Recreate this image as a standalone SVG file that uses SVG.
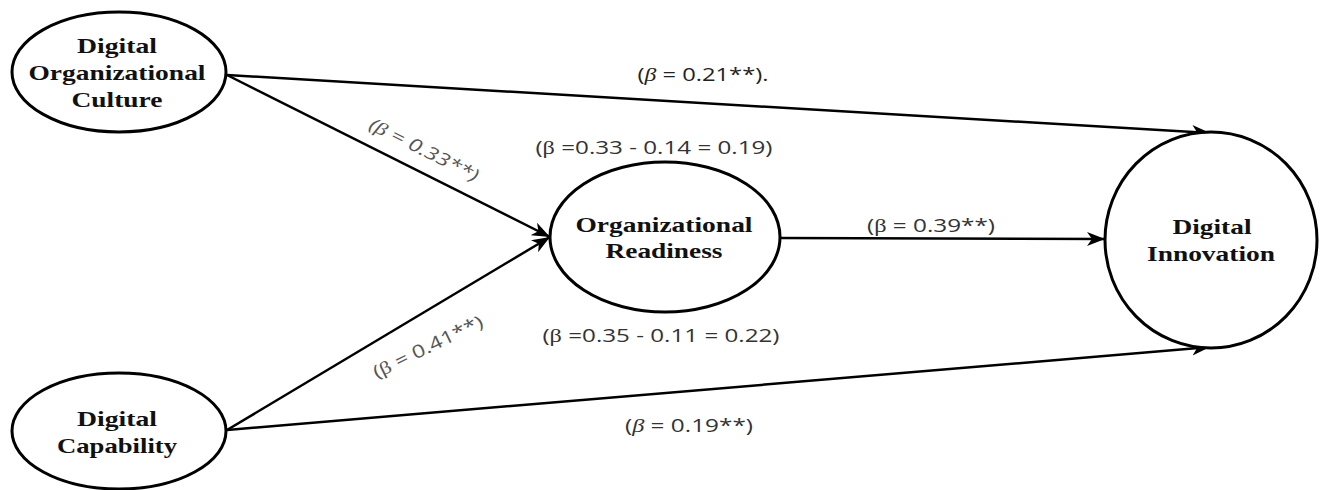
<svg xmlns="http://www.w3.org/2000/svg" width="1320" height="490" viewBox="0 0 1320 490">
<style>
.node ellipse{fill:#fff;stroke:#000;stroke-width:3}
.nt{font-family:"Liberation Serif","Times New Roman",serif;font-weight:bold;font-size:22px;fill:#111;text-anchor:middle}
.lbl{font-family:"Open Sans","Liberation Sans",sans-serif;font-size:18px;fill:#333;text-anchor:middle}
.gray{fill:#555}
.b{font-family:"Liberation Serif","Times New Roman",serif}
.bi{font-family:"Liberation Serif","Times New Roman",serif;font-style:italic}
.conn line{stroke:#000;stroke-width:2.5;marker-end:url(#arr)}
</style>
<defs>
<marker id="arr" markerUnits="userSpaceOnUse" markerWidth="20" markerHeight="16" refX="18" refY="7" orient="auto" viewBox="0 0 20 14">
<path d="M0,0 L18,7 L0,14 L5,7 z" fill="#000"/>
</marker>
</defs>
<rect width="1320" height="490" fill="#fff"/>
<g class="conn" id="connectors">
<line x1="227" y1="75" x2="1210" y2="133"/>
<line x1="227" y1="75" x2="550" y2="237"/>
<line x1="227" y1="430" x2="550" y2="237"/>
<line x1="227" y1="430" x2="1210" y2="347"/>
<line x1="780" y1="238" x2="1105" y2="239"/>
</g>
<g class="node" id="doc">
<ellipse cx="119" cy="72" rx="107" ry="60"/>
<text class="nt" x="117" y="53" textLength="80" lengthAdjust="spacingAndGlyphs">Digital</text>
<text class="nt" x="117" y="80" textLength="177" lengthAdjust="spacingAndGlyphs">Organizational</text>
<text class="nt" x="117" y="107" textLength="91" lengthAdjust="spacingAndGlyphs">Culture</text>
</g>
<g class="node" id="dc">
<ellipse cx="119" cy="431" rx="107" ry="58"/>
<text class="nt" x="117" y="426" textLength="80" lengthAdjust="spacingAndGlyphs">Digital</text>
<text class="nt" x="117" y="453" textLength="120" lengthAdjust="spacingAndGlyphs">Capability</text>
</g>
<g class="node" id="or">
<ellipse cx="665" cy="237" rx="115" ry="75"/>
<text class="nt" x="664" y="232" textLength="177" lengthAdjust="spacingAndGlyphs">Organizational</text>
<text class="nt" x="664" y="258" textLength="117" lengthAdjust="spacingAndGlyphs">Readiness</text>
</g>
<g class="node" id="di">
<ellipse cx="1211" cy="240" rx="106" ry="108"/>
<text class="nt" x="1212" y="234" textLength="79" lengthAdjust="spacingAndGlyphs">Digital</text>
<text class="nt" x="1211" y="261" textLength="128" lengthAdjust="spacingAndGlyphs">Innovation</text>
</g>
<g id="labels">
<text class="lbl" x="703" y="81" textLength="131" lengthAdjust="spacingAndGlyphs" style="fill:#222">(<tspan class="bi">β</tspan> = 0.21**).</text>
<text class="lbl gray" x="424" y="156" textLength="120" lengthAdjust="spacingAndGlyphs" transform="rotate(26.6 424 150)" style="font-style:italic">(<tspan class="bi">β</tspan> = 0.33**)</text>
<text class="lbl gray" x="428" y="353" textLength="120" lengthAdjust="spacingAndGlyphs" transform="rotate(-26 428 347)">(<tspan class="b">β</tspan> = 0.41**)</text>
<text class="lbl" x="654" y="154" textLength="237" lengthAdjust="spacingAndGlyphs">(<tspan class="b">β</tspan> =0.33 - 0.14 = 0.19)</text>
<text class="lbl" x="661" y="342" textLength="237" lengthAdjust="spacingAndGlyphs">(<tspan class="b">β</tspan> =0.35 - 0.11 = 0.22)</text>
<text class="lbl" x="931" y="232" textLength="128" lengthAdjust="spacingAndGlyphs">(<tspan class="b">β</tspan> = 0.39**)</text>
<text class="lbl" x="689" y="432" textLength="128" lengthAdjust="spacingAndGlyphs">(<tspan class="bi">β</tspan> = 0.19**)</text>
</g>
</svg>
